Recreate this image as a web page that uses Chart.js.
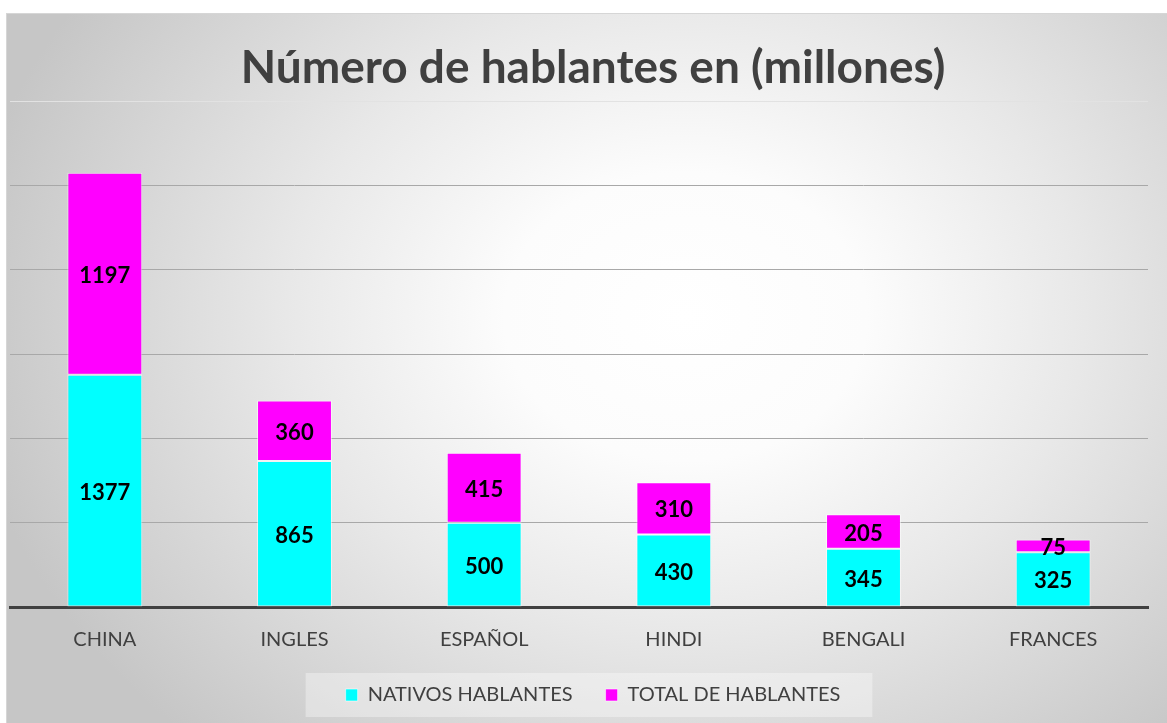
<!DOCTYPE html>
<html>
<head>
<meta charset="utf-8">
<script src="https://cdn.jsdelivr.net/npm/chart.js@4.4.1/dist/chart.umd.min.js"></script>
<style>
  html, body { margin: 0; padding: 0; background: #fff; }
  body { width: 1167px; height: 723px; position: relative; overflow: hidden; }
  #frame {
    position: absolute; left: 6px; top: 13px; width: 1170px; height: 720px;
    border: 1px solid #d6d6d6;
    background: radial-gradient(ellipse 62% 80% at 58% 42%, #ffffff 0%, #fcfcfc 25%, #e8e8e8 55%, #c6c6c6 100%);
  }
  #wrap { position: absolute; left: 0; top: 0; width: 1180px; height: 723px; }
</style>
</head>
<body>
<div id="frame"></div>
<div id="wrap"><canvas id="chart"></canvas></div>
<script>
// ====== DATA ======
const LANGUAGES = ["CHINA", "INGLES", "ESPAÑOL", "HINDI", "BENGALI", "FRANCES"];
const NATIVOS = [1377, 865, 500, 430, 345, 325];
const TOTAL = [1197, 360, 415, 310, 205, 75];
const SERIES_NAMES = ["NATIVOS HABLANTES", "TOTAL DE HABLANTES"];
const TITLE = "Número de hablantes en (millones)";
// ==================

const FONT = "Lato, 'Open Sans', sans-serif";
const TEXT_GRAY = "#404040";

// Draw the value in the middle of every segment
const segmentLabels = {
  id: "segmentLabels",
  afterDatasetsDraw(chart) {
    const ctx = chart.ctx;
    ctx.save();
    ctx.font = `bold 22px ${FONT}`;
    ctx.fillStyle = "#000";
    ctx.textAlign = "center";
    ctx.textBaseline = "middle";
    chart.data.datasets.forEach((ds, di) => {
      const meta = chart.getDatasetMeta(di);
      meta.data.forEach((bar, i) => {
        const p = bar.getProps(["x", "y", "base"], true);
        ctx.fillText(String(ds.data[i]), p.x, (p.y + p.base) / 2 + 2);
      });
    });
    ctx.restore();
  },
};

// Light panel behind the legend items
const legendPanel = {
  id: "legendPanel",
  beforeDraw(chart) {
    const lg = chart.legend;
    if (!lg || !lg.legendHitBoxes || !lg.legendHitBoxes.length) return;
    const boxes = lg.legendHitBoxes;
    const left = Math.min(...boxes.map((b) => b.left)) - 40;
    const right = Math.max(...boxes.map((b) => b.left + b.width)) + 32;
    const top = Math.min(...boxes.map((b) => b.top)) - 12;
    const bottom = Math.max(...boxes.map((b) => b.top + b.height)) + 12;
    const ctx = chart.ctx;
    ctx.save();
    ctx.fillStyle = "rgba(255,255,255,0.35)";
    ctx.fillRect(left, top, right - left, bottom - top);
    ctx.restore();
  },
};

new Chart(document.getElementById("chart"), {
  type: "bar",
  data: {
    labels: LANGUAGES,
    datasets: [
      {
        label: SERIES_NAMES[0],
        data: NATIVOS,
        backgroundColor: "#00ffff",
        borderColor: "rgba(255,255,255,0.55)",
        borderWidth: 1,
        borderSkipped: false,
      },
      {
        label: SERIES_NAMES[1],
        data: TOTAL,
        backgroundColor: "#ff00ff",
        borderColor: "rgba(255,255,255,0.55)",
        borderWidth: 1,
        borderSkipped: false,
      },
    ],
  },
  options: {
    responsive: true,
    maintainAspectRatio: false,
    animation: false,
    categoryPercentage: 1,
    barPercentage: 0.395,
    layout: { padding: { top: 20, left: 10, right: 4, bottom: 8 } },
    plugins: {
      title: {
        display: true,
        text: TITLE,
        color: TEXT_GRAY,
        font: { family: FONT, size: 46, weight: "bold", lineHeight: 1.0 },
        padding: { top: 25, bottom: 10 },
      },
      legend: {
        position: "bottom",
        labels: {
          color: TEXT_GRAY,
          font: { family: FONT, size: 20 },
          boxWidth: 12,
          boxHeight: 12,
          padding: 33,
        },
      },
      tooltip: { enabled: false },
    },
    scales: {
      x: {
        stacked: true,
        grid: { display: false, drawTicks: false },
        border: { display: true, color: "#404040", width: 3 },
        ticks: {
          color: TEXT_GRAY,
          font: { family: FONT, size: 20 },
          padding: 21,
        },
        afterFit: (s) => { s.height = 45; },
      },
      y: {
        stacked: true,
        position: "right",
        min: 0,
        max: 3000,
        ticks: { display: false, stepSize: 500 },
        border: { display: false },
        grid: {
          drawTicks: false,
          color: (c) => (c.tick && c.tick.value === 3000 ? "#e2e2e2" : "#a8a8a8"),
          lineWidth: 1,
        },
        afterFit: (s) => { s.width = 28; },
      },
    },
  },
  plugins: [segmentLabels, legendPanel],
});
</script>
</body>
</html>
